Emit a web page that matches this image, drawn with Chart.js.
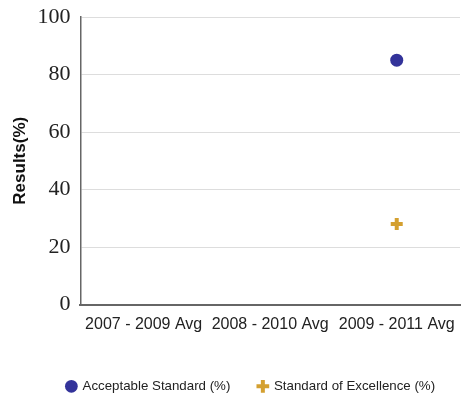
<!DOCTYPE html>
<html>
<head>
<meta charset="utf-8">
<script src="https://cdn.jsdelivr.net/npm/chart.js@4/dist/chart.umd.min.js"></script>
<style>
  html, body { margin: 0; padding: 0; background: #fff; }
  #wrap { width: 461px; height: 396px; }
</style>
</head>
<body>
<div id="wrap"><canvas id="chart"></canvas></div>
<script>
const periods = ['2007 - 2009 Avg', '2008 - 2010 Avg', '2009 - 2011 Avg'];
const acceptable = [null, null, 85];
const excellence = [null, null, 28];

// nudge the legend a little to the right, like the original
const legendShift = {
  id: 'legendShift',
  afterLayout(chart) {
    chart.legend.left += 16;
    chart.legend.right += 16;
  }
};

new Chart(document.getElementById('chart'), {
  type: 'line',
  plugins: [legendShift],
  data: {
    labels: periods,
    datasets: [
      {
        label: 'Acceptable Standard (%)',
        data: acceptable,
        showLine: false,
        pointStyle: 'circle',
        pointRadius: 6.5,
        backgroundColor: '#33339a',
        borderColor: '#33339a',
        borderWidth: 0
      },
      {
        label: 'Standard of Excellence (%)',
        data: excellence,
        showLine: false,
        pointStyle: 'cross',
        pointRadius: 6,
        backgroundColor: '#d4a030',
        borderColor: '#d4a030',
        borderWidth: 4
      }
    ]
  },
  options: {
    responsive: true,
    maintainAspectRatio: false,
    animation: false,
    layout: { autoPadding: false, padding: { top: 0, right: 1, left: 10, bottom: -7 } },
    plugins: {
      legend: {
        position: 'bottom',
        labels: {
          usePointStyle: true,
          boxWidth: 9,
          boxHeight: 9,
          padding: 28,
          color: '#222',
          font: { family: 'Liberation Sans', size: 13.3 }
        }
      },
      tooltip: { enabled: false }
    },
    scales: {
      x: {
        offset: true,
        grid: { display: false, drawTicks: false },
        border: { color: '#666', width: 2 },
        ticks: {
          color: '#222',
          padding: 10,
          maxRotation: 0,
          autoSkip: false,
          font: { family: 'Liberation Sans', size: 16 }
        },
        afterFit: (scale) => {
          scale.height += 8;
          scale.paddingRight = 0;
          scale.paddingLeft = 0;
        }
      },
      y: {
        min: 0,
        max: 100,
        grid: { color: '#dddddd', drawTicks: false },
        border: { color: '#666', width: 1.5 },
        ticks: {
          stepSize: 20,
          color: '#222',
          padding: 10,
          font: { family: 'Liberation Serif', size: 22 }
        },
        title: {
          display: true,
          text: 'Results(%)',
          color: '#111',
          padding: { top: 0, bottom: -3 },
          font: { family: 'Liberation Sans', size: 17, weight: 'bold' }
        },
        afterFit: (scale) => {
          scale.paddingTop = 17;
        }
      }
    }
  }
});
</script>
</body>
</html>
